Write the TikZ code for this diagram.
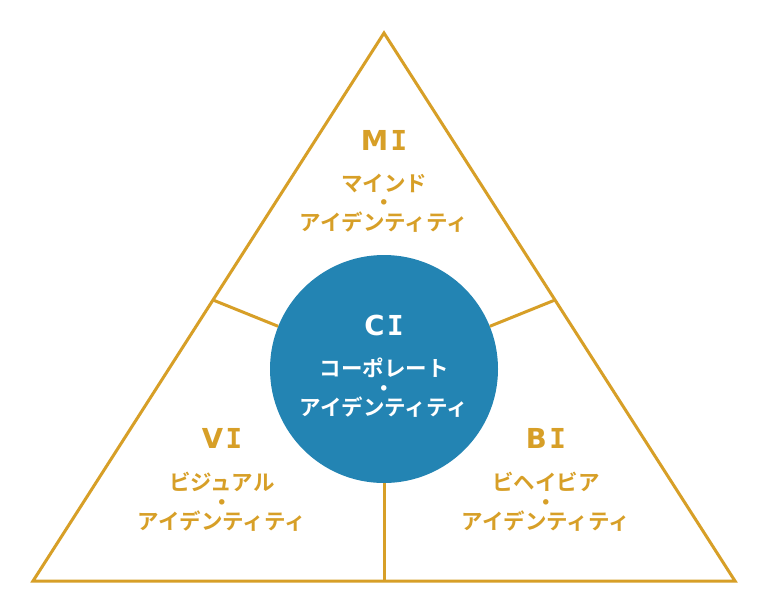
\documentclass[tikz,border=0pt]{standalone}
\usepackage{fontspec}
\setmainfont{Noto Sans CJK JP}[BoldFont={* Bold}]
\newfontfamily\jpb{Noto Sans CJK JP Bold}
\newfontfamily\latb{DejaVu Sans Bold}
\newfontfamily\latmono{DejaVu Sans Mono Bold}
\definecolor{gold}{HTML}{D79F27}
\definecolor{ciblue}{HTML}{2384B3}
\newcommand{\hd}[1]{\latb #1\kern2.5pt\latmono I}
\begin{document}
\begin{tikzpicture}[x=1pt,y=-1pt,
  edge/.style={draw=gold,line width=3pt},
  head/.style={font=\fontsize{27.5}{27.5}\selectfont,text=gold,inner sep=0pt},
  jp/.style={font=\jpb\fontsize{21.5}{19.6}\selectfont,text=gold,inner sep=0pt,align=center},
  headw/.style={head,text=white},
  jpw/.style={jp,text=white}]
\useasboundingbox (0,0) rectangle (768,614);
\fill[white] (0,0) rectangle (768,614);
\coordinate (top) at (384,33);
\coordinate (bl) at (33,581);
\coordinate (br) at (735,581);
\coordinate (lm) at (213,300);
\coordinate (rm) at (555,300);
\coordinate (bm) at (384,581);
\draw[edge,line join=miter] (top) -- (bl) -- (br) -- cycle;
\node[circle,fill=ciblue,minimum size=228pt,inner sep=0pt] (ci) at (384,369) {};
\draw[edge] (lm) -- (ci);
\draw[edge] (rm) -- (ci);
\draw[edge] (bm) -- (ci);
% MI
\node[head] (mi) at (384,140) {\hd{M}};
\node[jp] (mib) at (384,203) {マインド\\・\\アイデンティティ};
% CI
\node[headw] (cit) at (384,325) {\hd{C}};
\node[jpw] (cib) at (384,388) {コーポレート\\・\\アイデンティティ};
% VI
\node[head] (vi) at (222,438) {\hd{V}};
\node[jp] (vib) at (222,502) {ビジュアル\\・\\アイデンティティ};
% BI
\node[head] (bi) at (546,438) {\hd{B}};
\node[jp] (bib) at (546,502) {ビヘイビア\\・\\アイデンティティ};
\end{tikzpicture}
\end{document}
